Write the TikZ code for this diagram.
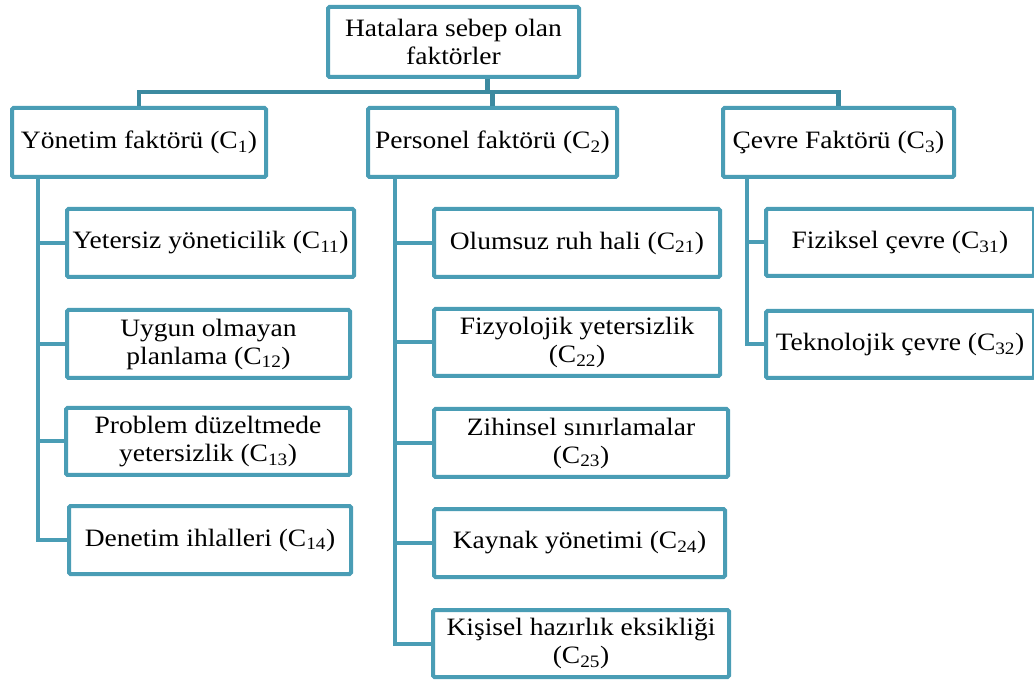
\documentclass[tikz,border=0pt]{standalone}
\usepackage{fontspec}
\setmainfont{Liberation Serif}[FakeStretch=1.1]
\usepackage{tikz}
\definecolor{boxteal}{HTML}{4A9DB5}
\definecolor{busteal}{HTML}{3C8AA0}

\begin{document}
\begin{tikzpicture}[x=1pt,y=-1pt,
box/.style={draw=boxteal,line width=4pt,fill=white,rounded corners=1.5pt,
   align=center,inner sep=0pt,font=\fontsize{25}{28}\selectfont},
link/.style={boxteal,line width=4pt},
bus/.style={busteal,line width=4.5pt}]
\useasboundingbox (0,0) rectangle (1034,684);
% top and main factors
\node[box,minimum width=251,minimum height=70] (root) at (453.5,42) {Hatalara sebep olan\\faktörler};
\node[box,minimum width=254,minimum height=69] (yon) at (139,142.5) {Yönetim faktörü (C\textsubscript{1})};
\node[box,minimum width=249,minimum height=69] (per) at (492.5,142.5) {Personel faktörü (C\textsubscript{2})};
\node[box,minimum width=231,minimum height=69] (cev) at (838.5,142.5) {Çevre Faktörü (C\textsubscript{3})};
\coordinate (bus) at (0,92);
\draw[bus] (yon.north) |- (cev.north |- bus) -- (cev.north);
\draw[bus] (per.north) -- (per.north |- bus);
\draw[bus] ([xshift=34]root.south) -- ([xshift=34]root.south |- bus);
% sub factors
\node[box,minimum width=287,minimum height=68] (c11) at (210.5,243) {Yetersiz yöneticilik (C\textsubscript{11})};
\node[box,minimum width=283,minimum height=68] (c12) at (208.5,344) {Uygun olmayan\\planlama (C\textsubscript{12})};
\node[box,minimum width=284,minimum height=67] (c13) at (208,441.5) {Problem düzeltmede\\yetersizlik (C\textsubscript{13})};
\node[box,minimum width=282,minimum height=68] (c14) at (210,540) {Denetim ihlalleri (C\textsubscript{14})};
\node[box,minimum width=286,minimum height=68] (c21) at (577,243) {Olumsuz ruh hali (C\textsubscript{21})};
\node[box,minimum width=286,minimum height=67] (c22) at (577,342.5) {Fizyolojik yetersizlik\\(C\textsubscript{22})};
\node[box,minimum width=294,minimum height=68] (c23) at (581,443) {Zihinsel sınırlamalar\\(C\textsubscript{23})};
\node[box,minimum width=291,minimum height=68] (c24) at (579.5,543) {Kaynak yönetimi (C\textsubscript{24})};
\node[box,minimum width=296,minimum height=67] (c25) at (581,643.5) {Kişisel hazırlık eksikliği\\(C\textsubscript{25})};
\node[box,minimum width=268,minimum height=67] (c31) at (900,242.5) {Fiziksel çevre (C\textsubscript{31})};
\node[box,minimum width=268,minimum height=67] (c32) at (900,344.5) {Teknolojik çevre (C\textsubscript{32})};
\foreach \c in {c11,c12,c13,c14}
   \draw[link] ([xshift=28]yon.south west) |- (\c.west);
\foreach \c in {c21,c22,c23,c24,c25}
   \draw[link] ([xshift=29]per.south west) |- (\c.west);
\foreach \c in {c31,c32}
   \draw[link] ([xshift=26]cev.south west) |- (\c.west);
\end{tikzpicture}
\end{document}
